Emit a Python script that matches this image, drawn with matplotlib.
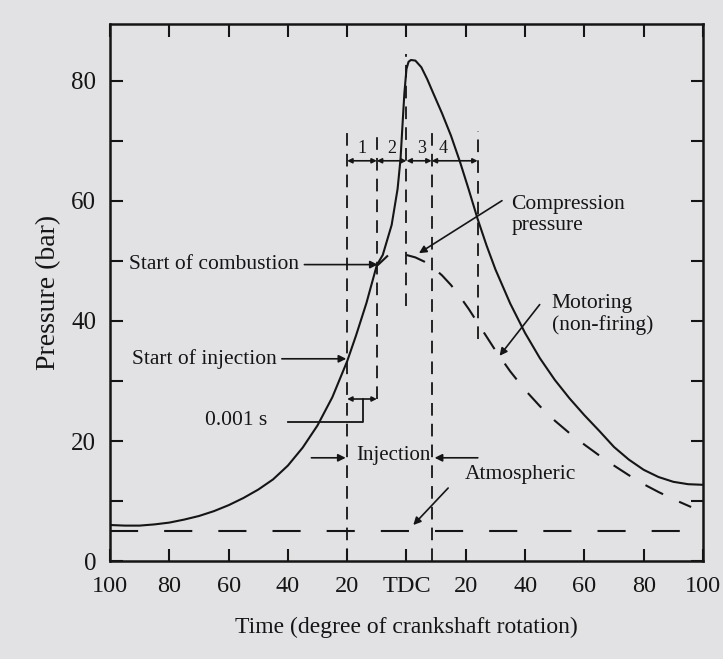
import matplotlib.pyplot as plt
from matplotlib.ticker import MultipleLocator

plt.rcParams['font.family'] = ['Liberation Serif', 'DejaVu Serif']

# firing cylinder pressure (solid line), crank angle in degrees, negative = before TDC
angle_fire = [-100, -95, -90, -85, -80, -75, -70, -65, -60, -55, -50, -45, -40, -35, -30,
              -25, -20, -17, -13.5, -10, -8, -5, -3, -2, -1.3, -0.7, 0, 0.7, 1.5, 3, 5, 7,
              9, 12, 15, 18, 21, 24, 27, 30, 35, 40, 45, 50, 55, 60, 65, 70, 75, 80, 85,
              90, 95, 100]
p_fire = [6.0, 5.9, 5.9, 6.1, 6.4, 6.9, 7.5, 8.3, 9.3, 10.5, 11.9, 13.6, 15.9, 18.9, 22.6,
          27.3, 33.3, 37.6, 43.0, 49.3, 51.0, 56.0, 62.0, 67.0, 73.0, 78.0, 82.0, 83.2, 83.5, 83.4, 82.3, 80.3,
          78.0, 74.6, 70.9, 66.6, 61.9, 57.0, 52.6, 48.6, 42.9, 38.0, 33.8, 30.2, 27.1, 24.3, 21.7, 19.0,
          16.9, 15.2, 14.0, 13.2, 12.8, 12.7]

# motoring (non-firing) pressure after TDC (dashed)
angle_motor = [0, 3, 6, 9, 12, 15, 18, 21, 24, 27, 30, 35, 40, 45, 50, 55, 60, 65, 70,
               75, 80, 85, 90, 96]
p_motor = [51.0, 50.6, 49.9, 48.9, 47.6, 46.0, 44.1, 42.0, 39.7, 37.4, 35.1, 31.6, 28.5,
           25.8, 23.4, 21.3, 19.4, 17.6, 15.9, 14.3, 12.8, 11.5, 10.3, 9.0]

# short continuation of compression line past start of combustion
angle_comp = [-9.5, -6.5]
p_comp = [49.4, 50.8]

p_atm = 5.0

# vertical timing lines
mark_angle = [-20, -10, 0, 8.5, 24]
mark_low = [0, 27, 42.5, 0, 37]
mark_high = [71.7, 71.7, 84.5, 71.7, 71.7]
phase_labels = ['1', '2', '3', '4']
phase_label_x = [-15, -5, 5, 12.5]
phase_bar_p = 66.7

xtick_vals = [-100, -80, -60, -40, -20, 0, 20, 40, 60, 80, 100]
xtick_text = ['100', '80', '60', '40', '20', 'TDC', '20', '40', '60', '80', '100']
ytick_vals = [0, 20, 40, 60, 80]

ink = '#151515'
bg = '#e2e2e4'

fig = plt.figure(figsize=(7.23, 6.59), dpi=100, facecolor=bg)
ax = fig.add_axes([0.1521, 0.1487, 0.8202, 0.8149], facecolor=bg)

ax.plot(angle_fire, p_fire, color=ink, lw=1.5)
ax.plot(angle_comp, p_comp, color=ink, lw=1.5)
ax.plot(angle_motor, p_motor, color=ink, lw=1.5, dashes=(9.5, 8.5))
ax.plot([-100, 97], [p_atm, p_atm], color=ink, lw=1.5, dashes=(13.5, 12.5))

for a, lo, hi in zip(mark_angle, mark_low, mark_high):
    ax.plot([a, a], [lo, hi], color=ink, lw=1.3, dashes=(7, 4.5))

# phase bracket 1-4
for i in range(len(mark_angle) - 1):
    ax.annotate('', xy=(mark_angle[i + 1], phase_bar_p), xytext=(mark_angle[i], phase_bar_p),
                arrowprops=dict(arrowstyle='<|-|>', color=ink, lw=1.2, mutation_scale=7,
                                shrinkA=0, shrinkB=0))
for lab, x in zip(phase_labels, phase_label_x):
    ax.text(x, 68.8, lab, fontsize=13, ha='center', va='center', color=ink)

# 0.001 s bracket
ax.annotate('', xy=(-10, 27), xytext=(-20, 27),
            arrowprops=dict(arrowstyle='<|-|>', color=ink, lw=1.2, mutation_scale=7,
                            shrinkA=0, shrinkB=0))
ax.plot([-14.5, -14.5, -40], [27, 23.2, 23.2], color=ink, lw=1.3)
ax.text(-47, 23.4, '0.001 s', fontsize=15.5, ha='right', va='center', color=ink)

arrow = dict(arrowstyle='-|>', color=ink, lw=1.2, mutation_scale=11, shrinkA=2, shrinkB=0)

ax.annotate('Start of combustion', xy=(-9.7, 49.4), xytext=(-36.3, 49.4),
            ha='right', va='center', fontsize=15.5, color=ink, arrowprops=arrow)
ax.annotate('Start of injection', xy=(-20.3, 33.7), xytext=(-43.9, 33.7),
            ha='right', va='center', fontsize=15.5, color=ink, arrowprops=arrow)

# injection period arrows
ax.annotate('', xy=(-20.5, 17.2), xytext=(-33, 17.2), arrowprops=arrow)
ax.annotate('', xy=(9.5, 17.2), xytext=(25, 17.2), arrowprops=arrow)
ax.text(-4.5, 17.6, 'Injection', fontsize=15, ha='center', va='center', color=ink)

ax.text(35.3, 57.6, 'Compression\npressure', fontsize=15.5, ha='left', va='center',
        color=ink, linespacing=1.15)
ax.annotate('', xy=(4.2, 51.3), xytext=(33, 60.3), arrowprops=arrow)

ax.text(49, 41.1, 'Motoring\n(non-firing)', fontsize=15.5, ha='left', va='center',
        color=ink, linespacing=1.15)
ax.annotate('', xy=(31.4, 34.2), xytext=(45.5, 43.1), arrowprops=arrow)

ax.text(19.5, 14.5, 'Atmospheric', fontsize=15.5, ha='left', va='center', color=ink)
ax.annotate('', xy=(2.3, 6.0), xytext=(14.7, 12.5), arrowprops=arrow)

ax.set_xlim(-100, 100)
ax.set_ylim(0, 89.5)
ax.set_xticks(xtick_vals)
ax.set_xticklabels(xtick_text)
ax.set_yticks(ytick_vals)
ax.yaxis.set_minor_locator(MultipleLocator(10))
ax.tick_params(which='both', direction='in', top=True, right=True, length=9, width=1.5,
               color=ink, labelcolor=ink)
ax.tick_params(axis='x', labelsize=17.5, pad=11)
ax.tick_params(axis='y', labelsize=18, pad=10)
for s in ax.spines.values():
    s.set_linewidth(1.8)
    s.set_color(ink)

ax.set_xlabel('Time (degree of crankshaft rotation)', fontsize=17, color=ink)
ax.xaxis.set_label_coords(0.5, -0.104)
ax.set_ylabel('Pressure (bar)', fontsize=20, color=ink)
ax.yaxis.set_label_coords(-0.083, 0.5)

fig.savefig('out.png', dpi=100, facecolor=bg)
